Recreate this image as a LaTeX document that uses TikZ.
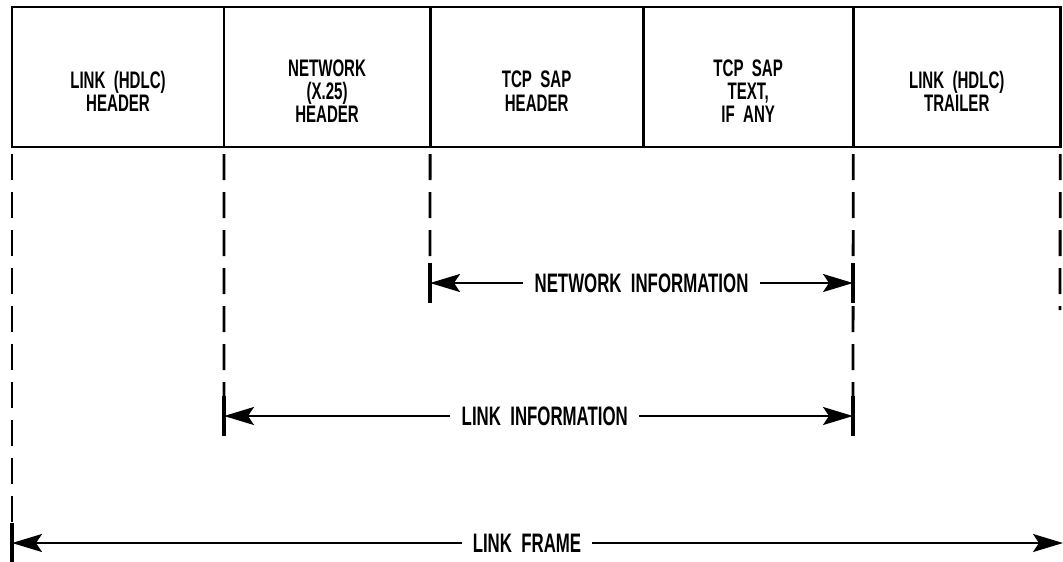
\documentclass[tikz,border=0pt]{standalone}
\usepackage{fontspec}
\setmainfont{Liberation Sans}[FakeStretch=0.63]
\usetikzlibrary{positioning,arrows.meta}
\tikzset{>={Stealth[length=0.75cm,width=0.45cm,inset=0.15cm]}}
\tikzset{
  cell/.style={draw,line width=2pt,inner sep=0pt,outer sep=0pt,minimum height=3.5cm,anchor=west},
  celltext/.style={align=center,font=\fontsize{17}{16.5}\selectfont\bfseries},
  guide/.style={line width=2pt,dash pattern=on 0.65cm off 0.3cm},
  tick/.style={line width=2.2pt},
  span/.style={<->,line width=1.4pt},
  spantext/.style={fill=white,inner xsep=8pt,font=\fontsize{19}{22}\selectfont\bfseries}
}

\begin{document}
\begin{tikzpicture}[x=0.025cm,y=-0.025cm]
\useasboundingbox (0,0) rectangle (1063,561);
% the five fields of the frame
\node[cell,minimum width=5.3cm] (hdlc) at (12,77) {};
\node[cell,minimum width=5.15cm,right=0pt of hdlc] (x25) {};
\node[cell,minimum width=5.325cm,right=0pt of x25] (sap) {};
\node[cell,minimum width=5.25cm,right=0pt of sap] (text) {};
\node[cell,minimum width=5.175cm,right=0pt of text] (trail) {};
\node[celltext] at ([yshift=-10pt]hdlc.center) {LINK \ (HDLC)\\HEADER};
\node[celltext] at ([yshift=-10pt]x25.center) {NETWORK\\(X.25)\\HEADER};
\node[celltext] at ([yshift=-10pt]sap.center) {TCP \ SAP\\HEADER};
\node[celltext] at ([yshift=-10pt]text.center) {TCP \ SAP\\TEXT,\\IF \ ANY};
\node[celltext] at ([yshift=-10pt]trail.center) {LINK \ (HDLC)\\TRAILER};
% ends of the spans
\coordinate (ni-l) at (430,283);
\coordinate (ni-r) at (853,283);
\coordinate (li-l) at (224,416);
\coordinate (li-r) at (853,416);
\coordinate (lf-l) at (12,543);
\coordinate (lf-r) at (1063,543);
\coordinate (tr-end) at (1060,310);
% dashed guides
\draw[guide] ([yshift=-5pt]hdlc.south west) -- (lf-l);
\draw[guide] ([yshift=-5pt]x25.south west) -- (li-l);
\draw[guide] ([yshift=-5pt]sap.south west) -- (ni-l);
\draw[guide] ([yshift=-5pt]text.south east) -- (li-r);
\draw[guide] ([yshift=-5pt]trail.south east) -- (tr-end);
\foreach \p in {ni-l,ni-r,li-l,li-r,lf-l}
  \draw[tick] ([yshift=14pt]\p) -- ([yshift=-14pt]\p);
% spans
\draw[span] (ni-l) -- (ni-r) node[spantext,pos=0.5] {NETWORK \ INFORMATION};
\draw[span] (li-l) -- (li-r) node[spantext,pos=0.51] {LINK \ INFORMATION};
\draw[span] (lf-l) -- (lf-r) node[spantext,pos=0.49] {LINK \ FRAME};
\end{tikzpicture}
\end{document}
